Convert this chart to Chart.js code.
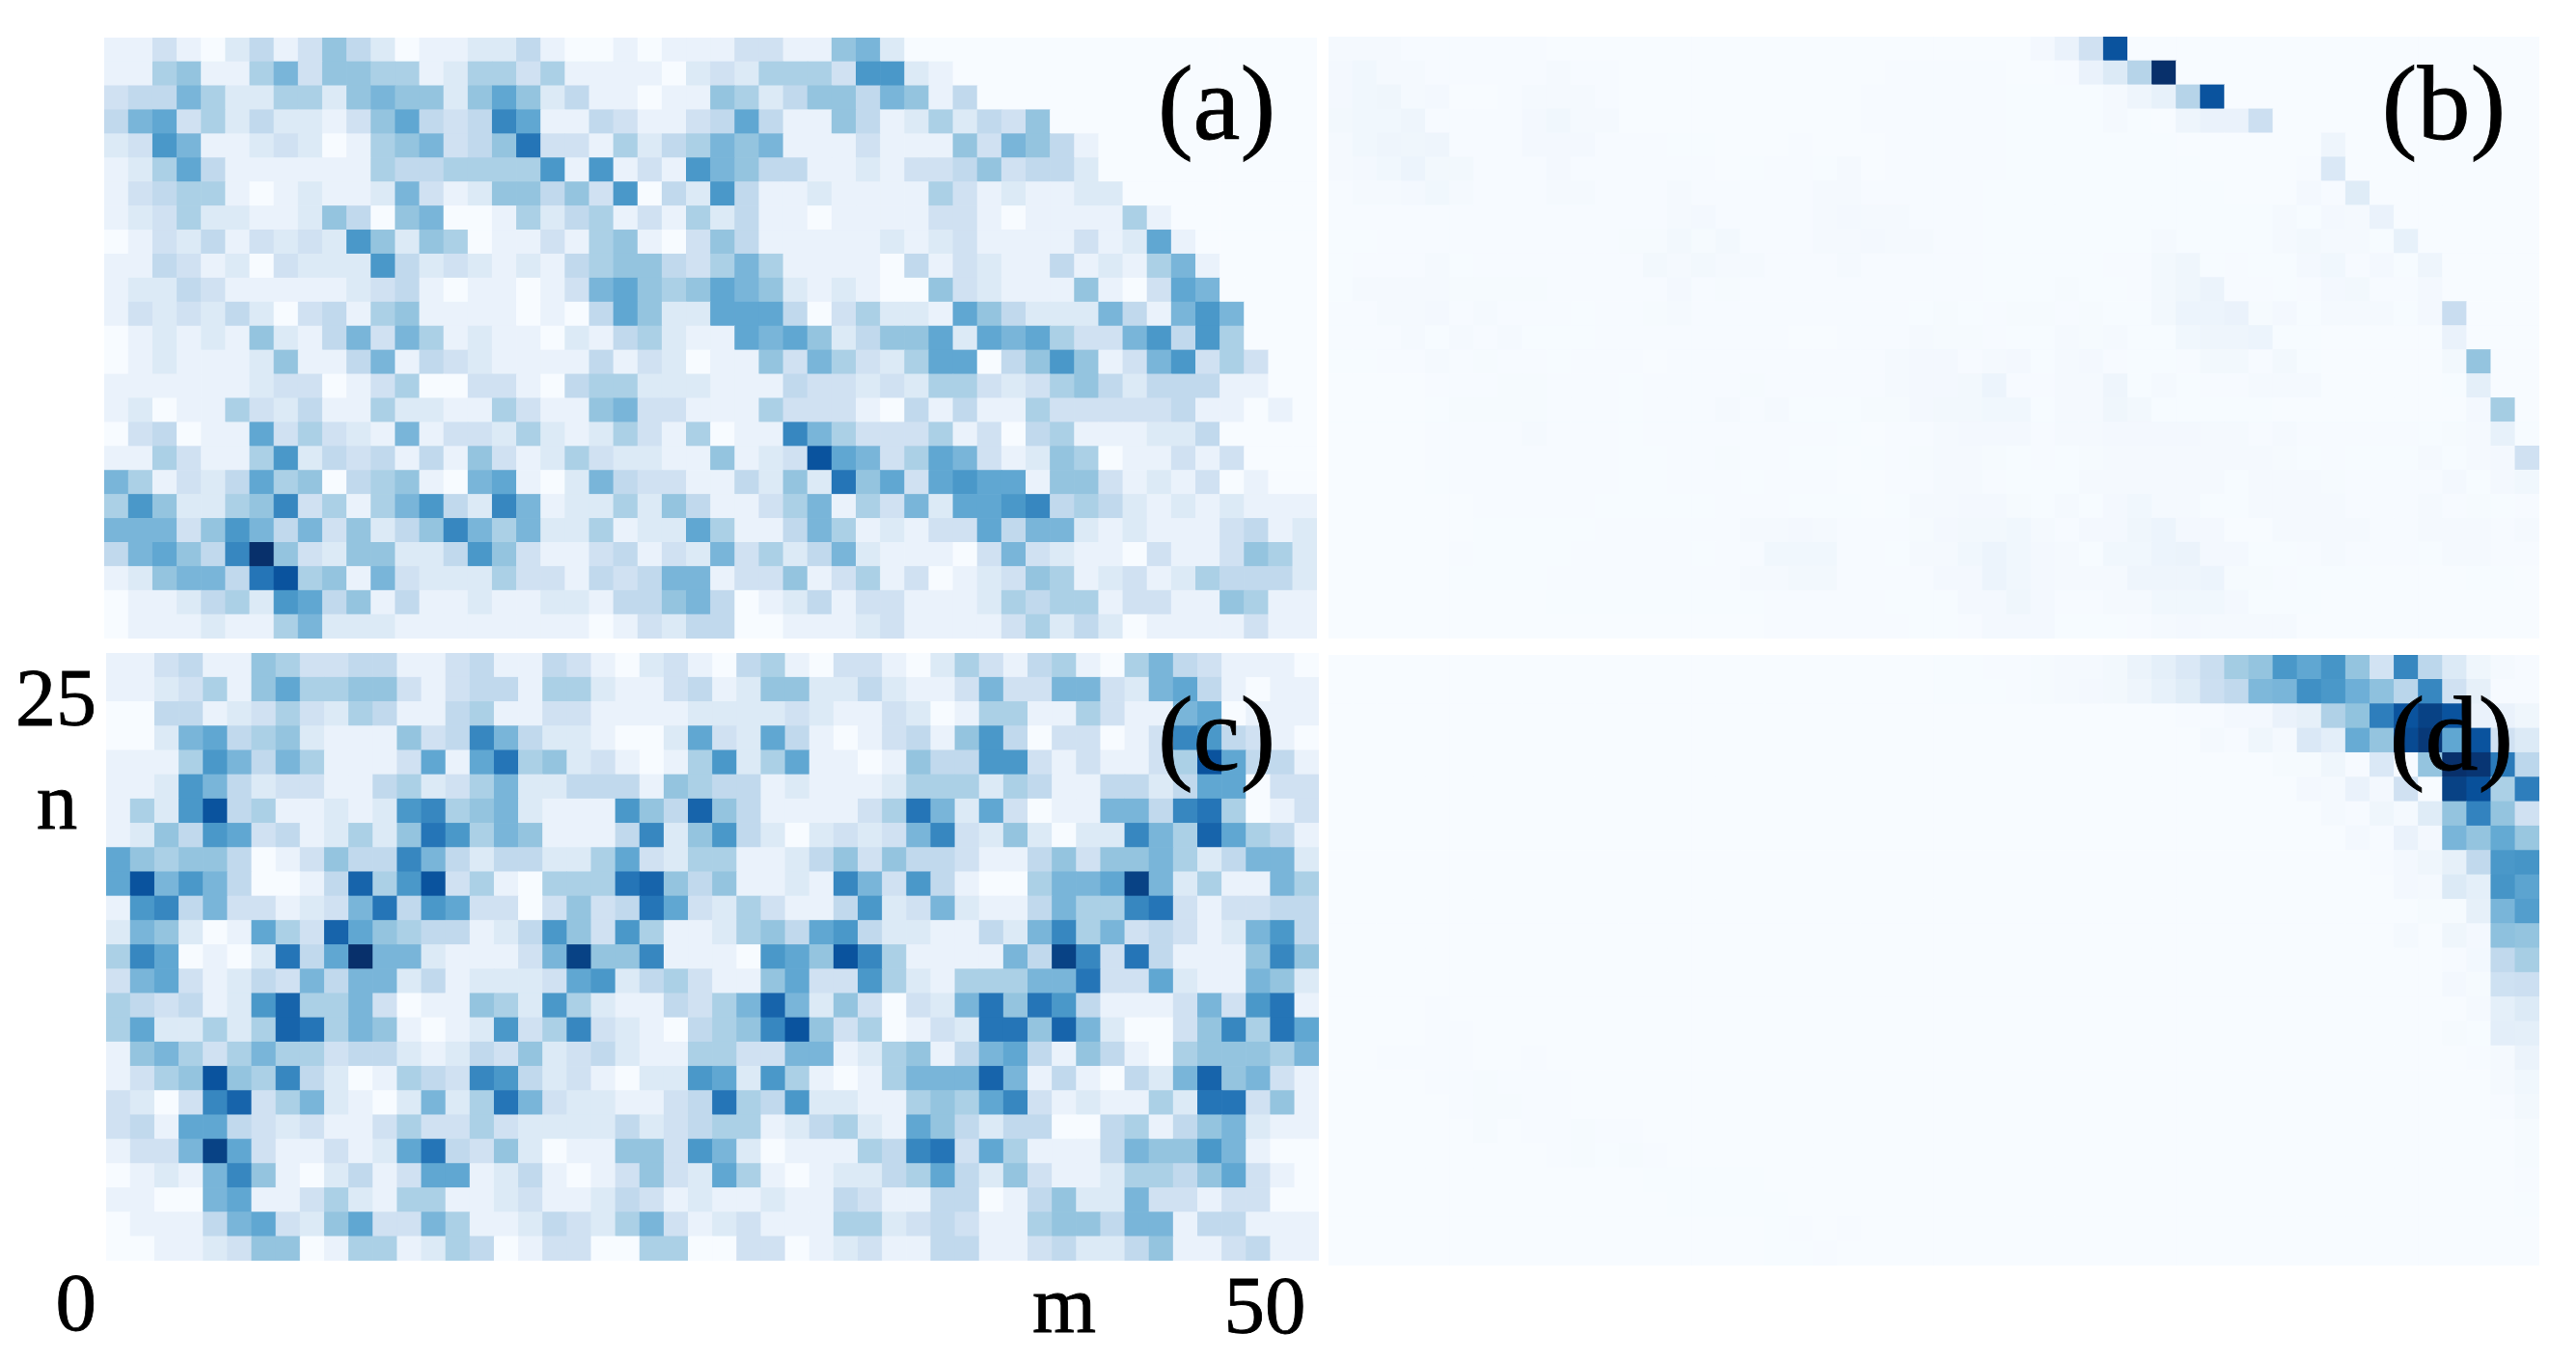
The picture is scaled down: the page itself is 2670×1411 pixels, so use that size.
<!DOCTYPE html>
<html>
<head>
<meta charset="utf-8">
<title>Panels (a)-(d)</title>
<script src="https://cdn.jsdelivr.net/npm/chart.js@4/dist/chart.umd.min.js"></script>
<style>
  html, body { margin: 0; padding: 0; background: #fff; }
  #page { position: relative; width: 2670px; height: 1411px; overflow: hidden; }
  .panel { position: absolute; }
  .lbl {
    position: absolute; white-space: nowrap; color: #000; line-height: 1;
    font-family: "Liberation Serif", serif;
    -webkit-text-stroke: 0.8px #000;
  }
</style>
</head>
<body>
<div id="page"></div>
<script>
// cell levels, 0 (palest) .. 15 (darkest), top row first, 50 columns each
const panelA = [
  [1,1,3,1,0,2,4,1,3,6,4,2,0,1,1,2,2,4,1,0,0,1,0,1,1,1,3,3,1,1,6,7,2,0,0,0,0,0,0,0,0,0,0,0,0,0,0,0,0,0],
  [1,1,5,6,1,1,5,7,3,6,6,5,5,1,2,5,5,3,5,1,1,1,1,0,2,3,2,5,5,5,3,9,9,2,1,0,0,0,0,0,0,0,0,0,0,0,0,0,0,0],
  [3,4,4,7,5,2,2,5,5,2,6,7,6,6,2,6,8,6,2,4,1,1,0,1,1,6,5,2,4,6,6,4,7,6,1,4,0,0,0,0,0,0,0,0,0,0,0,0,0,0],
  [4,7,8,3,5,2,4,2,2,1,3,6,8,4,3,4,10,8,1,1,4,3,1,1,3,4,8,4,1,1,6,4,1,2,5,2,4,3,6,0,0,0,0,0,0,0,0,0,0,0],
  [2,3,9,7,1,1,2,3,2,0,1,5,6,7,3,4,6,11,3,3,1,5,2,4,5,7,6,7,1,1,1,3,1,1,1,6,3,7,6,4,1,0,0,0,0,0,0,0,0,0],
  [1,2,5,8,4,1,1,1,1,1,1,5,4,4,5,5,5,5,9,1,9,1,3,1,9,7,6,4,4,1,1,2,1,3,3,4,6,3,4,4,2,0,0,0,0,0,0,0,0,0],
  [1,3,4,5,5,1,0,1,2,1,1,2,7,3,1,2,6,6,4,6,3,9,0,4,2,9,4,1,1,2,1,1,1,1,5,3,1,2,1,1,2,2,0,0,0,0,0,0,0,0],
  [1,2,3,5,2,2,1,1,2,6,4,0,6,7,0,0,1,5,2,4,5,1,3,1,5,2,4,1,1,0,1,1,1,1,3,3,1,0,1,1,1,1,5,1,0,0,0,0,0,0],
  [0,1,3,2,4,1,3,2,3,2,9,6,2,6,5,0,1,1,3,1,5,6,1,0,3,6,4,1,1,1,1,1,2,1,2,3,1,1,1,1,3,1,2,8,1,0,0,0,0,0],
  [1,1,4,3,1,2,0,3,2,2,2,9,4,2,3,2,1,2,1,4,5,6,6,4,3,5,7,5,1,1,1,1,0,4,1,3,2,1,1,4,1,2,1,5,7,1,0,0,0,0],
  [1,2,2,4,3,1,1,1,1,1,2,3,4,1,0,1,1,0,1,3,7,8,6,5,6,8,7,6,2,1,2,1,0,0,6,3,2,1,1,1,6,1,0,3,8,7,0,0,0,0],
  [1,3,2,3,2,4,2,0,3,4,1,5,6,1,1,1,1,0,1,0,4,8,6,2,2,8,8,8,4,0,3,5,2,2,1,8,6,4,2,2,2,7,4,1,7,9,7,0,0,0],
  [0,1,2,1,2,1,6,2,1,4,7,3,7,5,1,2,1,1,0,2,1,4,5,2,1,1,8,7,8,6,2,4,6,6,8,2,8,7,8,5,3,3,7,9,4,9,5,0,0,0],
  [0,1,2,1,1,1,2,6,1,1,4,7,1,4,3,2,1,1,1,1,4,1,3,2,0,1,1,6,3,7,5,3,2,5,8,8,0,4,6,9,6,1,3,7,9,3,5,3,0,0],
  [1,1,1,1,1,1,2,3,3,0,1,3,5,0,0,3,3,1,0,4,5,5,2,2,2,1,1,1,4,3,3,2,3,2,5,5,3,2,3,5,6,4,2,4,4,4,1,1,0,0],
  [1,2,0,1,1,5,3,2,4,1,1,5,2,2,1,1,5,3,1,1,6,7,3,3,1,1,1,5,3,3,3,1,0,4,1,4,1,1,5,3,3,3,3,3,4,1,1,0,1,0],
  [0,3,4,0,1,1,8,3,5,3,2,1,7,1,3,3,2,5,2,1,2,5,3,1,5,0,1,1,10,7,5,3,3,3,5,1,3,0,4,5,1,1,1,2,2,4,0,0,0,0],
  [1,1,5,3,1,1,5,9,2,4,3,4,1,4,1,6,3,1,2,5,3,2,2,1,1,6,1,2,3,13,8,7,3,5,8,7,3,1,2,6,5,0,1,1,3,1,3,0,0,0],
  [7,5,1,3,2,4,8,5,6,0,4,5,6,1,0,7,8,1,0,2,7,4,3,3,1,1,4,2,6,2,11,6,8,3,8,9,8,8,1,6,6,3,1,2,1,3,0,1,0,0],
  [5,9,6,2,2,5,6,10,3,5,1,5,7,9,4,2,10,7,1,2,2,5,2,6,4,1,1,3,5,7,1,5,3,7,2,8,8,9,10,4,5,4,2,1,2,1,2,1,1,1],
  [7,7,7,3,6,9,7,4,7,3,6,2,4,6,10,7,5,7,2,2,5,1,2,2,8,5,1,1,4,7,5,1,2,1,3,3,8,4,7,7,2,1,2,1,1,1,3,4,1,2],
  [4,7,8,6,4,10,15,6,3,2,6,6,2,2,4,9,6,3,1,1,3,4,1,3,2,7,3,5,2,4,7,2,1,1,1,0,3,7,3,2,1,1,0,3,1,1,3,6,5,2],
  [1,2,6,7,7,4,11,13,5,6,1,7,3,2,2,2,5,3,3,1,4,3,4,7,7,1,3,3,6,1,3,5,1,3,0,1,2,3,6,5,1,2,3,1,2,5,4,4,4,2],
  [0,1,1,2,4,5,2,9,8,4,6,1,4,1,1,2,1,1,2,2,1,4,4,6,7,4,0,1,2,4,1,3,3,1,1,1,2,5,4,5,5,1,3,3,1,1,6,5,1,1],
  [0,1,1,1,2,1,1,5,7,2,2,2,1,1,1,1,1,1,1,1,0,1,3,2,4,4,0,0,1,1,1,2,3,1,1,1,1,3,5,2,4,2,0,1,1,1,1,3,1,1]
];
const panelB = [
  [.2,.2,.2,.1,.1,.1,.1,.1,.1,0,0,0,0,0,0,0,0,0,0,0,0,0,0,0,0,0,0,0,0,.3,1,3,13,0,0,0,0,0,0,0,0,0,0,0,0,0,0,0,0,0],
  [.3,.5,.2,.2,.1,.1,.1,.1,.1,.2,.1,.1,0,0,0,0,0,0,0,0,0,0,0,.1,.1,.1,.1,.1,0,0,.1,1,2,4.5,15,0,0,0,0,0,0,0,0,0,0,0,0,0,0,0],
  [.3,.5,.6,.2,.3,0,0,.1,.2,.2,.2,.1,0,0,0,0,0,0,0,0,0,0,.1,.1,.1,.1,.1,.1,.05,.05,.05,.05,.2,.7,1.2,4.5,13,0,0,0,0,0,0,0,0,0,0,0,0,0],
  [.4,.5,.5,.7,.1,.1,.1,.1,.3,.5,.2,.2,0,0,0,0,0,0,0,0,0,0,.1,.1,.1,.1,.1,.1,.05,.05,.05,.05,.2,.05,0,.7,1,1,3.3,0,0,0,0,0,0,0,0,0,0,0],
  [.2,.5,.7,.6,.7,.1,.1,.1,.3,.3,.3,.1,.1,.1,.05,.05,0,0,0,.1,0,0,0,.1,.1,.1,.1,.1,.05,.05,.05,.05,.05,.05,.05,0,0,0,0,0,0,.7,0,0,0,0,0,0,0,0],
  [.2,.3,.5,.8,.4,.4,.1,.1,.1,.3,.1,.1,.1,.1,.1,.1,0,.05,.1,.1,.05,.2,0,.1,.1,.1,.1,.1,.05,.05,.05,.05,.05,.05,.05,.05,0,0,0,0,.1,2.2,0,0,0,0,0,0,0,0],
  [.1,.2,.2,.3,.5,.2,.1,.1,.1,.2,.2,.1,.1,.1,.2,.1,.1,.1,.1,.1,.2,.2,.1,.1,.1,.1,.1,.05,.05,.05,.05,.05,.05,.05,.05,.05,.05,0,0,0,.3,.1,1.8,0,0,0,0,0,0,0],
  [.1,.1,.1,.1,.1,.1,.1,.1,.1,.1,.1,.1,.1,.1,.2,.3,.1,.1,.1,.1,.2,.3,.2,.2,.1,.1,.1,.05,.05,.05,.05,.05,.05,.05,.05,.05,.05,.05,.05,.2,.05,.3,.2,1,0,0,0,0,0,0],
  [.05,.05,.1,.1,.1,.1,.1,.1,.1,.1,.1,.1,.15,.15,.4,.15,.4,.1,.1,.1,.2,.2,.3,.2,.2,.1,.1,.05,.05,.05,.05,.05,.05,.05,.2,.05,.05,.05,.05,.2,.4,.2,.2,.05,1.2,0,0,0,0,0],
  [.05,.1,.1,.1,.2,.05,.1,.1,.1,.1,.1,.1,.1,.4,.2,.4,.2,.2,.1,.1,.1,.2,.1,.1,.1,.1,.1,.05,.05,.05,.05,.05,.1,.1,.4,.6,.05,.1,.05,.05,.3,.5,.1,.3,.05,.7,0,0,0,0],
  [.05,.2,.2,.2,.2,.15,.15,.15,.15,.1,.1,.1,.1,.1,.3,.1,.15,.1,.1,.1,.1,.1,.1,.1,.1,.1,.1,.05,.05,.05,.15,.05,.05,.1,.4,.6,.9,.1,.1,.05,.1,.3,.4,.1,.1,.3,0,0,0,0],
  [.1,.1,.2,.2,.3,.1,.2,.1,.1,.1,.05,.1,.1,.15,.2,.1,.1,.1,.1,.1,.1,.1,.1,.1,.05,.15,.05,.1,.15,.15,.1,.15,.05,.05,.4,.8,.8,1,.15,.3,.05,.2,.2,.2,.05,.3,3.5,0,0,0],
  [.1,.1,.1,.2,.05,.2,.1,.2,.05,.05,.05,.1,.1,.1,.1,.1,.1,.1,.1,0,0,.1,.1,.1,.2,.15,.15,.1,.05,.05,.2,.15,.2,.05,.05,.5,.7,.7,.8,.05,.05,0,0,0,0,0,1,0,0,0],
  [.05,.05,.1,.1,.2,.1,.15,.1,.1,.05,.1,.1,.1,0,.1,.1,.1,.1,.1,.1,.1,.1,.1,.2,.3,.3,.1,.2,.3,.05,.2,.3,.1,.05,.05,.1,.4,.4,.1,.4,.05,0,0,0,0,0,.4,6,0,0],
  [0,0,0,0,.1,.1,.1,.15,.15,.1,.1,.1,.05,.1,.1,.1,.1,.15,.1,.1,.1,.1,.1,.2,.3,.3,.4,.8,.1,.1,.2,.2,.7,.05,.2,.05,.1,.1,.2,.2,.2,0,0,0,0,0,.05,1.4,0,0],
  [0,0,0,0,.05,.15,.15,.15,.15,.1,.1,.1,.05,.1,.1,.1,.2,.1,.2,.05,.05,.05,.15,.15,.3,.4,.4,.5,.5,.05,.2,.2,.6,.4,.05,.05,.05,.05,.05,0,0,0,0,0,0,0,0,.3,5.3,0],
  [0,0,0,0,.1,.1,.1,.1,.2,.1,.1,.1,.05,.1,.1,.1,.1,.1,.1,.1,.1,.05,0,.1,.1,.2,.3,.3,.3,.1,.2,.2,.3,.3,.3,.3,.2,.2,.1,.2,.1,.1,.1,.1,.1,.05,.15,.2,1.2,.05],
  [0,0,0,0,.1,.1,.1,.1,.1,.1,.1,.1,.05,.05,.1,.1,.15,.1,.1,.05,.05,0,.05,.1,.15,.2,.2,.15,.05,.1,.05,.15,.2,.2,.2,.2,.2,.2,.2,.15,.05,.1,.05,.05,.05,.2,.05,.2,.3,3],
  [0,0,0,0,.05,.1,.1,.1,.1,.1,.1,.1,.05,.05,.1,.1,.1,.05,.1,.1,.1,0,0,.1,.1,.2,.2,.1,.05,.05,.05,.2,.2,.2,.2,.2,.2,.05,.2,.2,.2,.15,.1,.1,.1,.1,.3,.05,.3,.5],
  [0,0,0,0,0,0,.1,.1,.1,.1,.1,.05,.05,.05,.05,.05,.1,.1,.1,.05,.05,.05,0,.05,.2,.2,.3,.3,.15,.05,.25,.05,.3,.5,.2,.25,.05,.05,.2,.2,.2,.25,.1,.1,.1,.2,.1,.15,.05,.1],
  [0,0,0,0,0,0,.05,.05,.05,.05,.05,.1,.1,.1,.1,.1,.1,.2,.2,.3,.2,.1,.1,.1,.15,.3,.4,.4,.5,.2,.1,.3,.3,.6,.8,.3,.3,0,0,.25,.25,.25,.25,.1,.1,.2,.2,.2,.1,.2],
  [0,0,0,0,0,.1,.05,.05,.05,.05,.1,.1,.1,.1,.1,.05,.1,.1,.5,.5,.5,.1,.1,.05,.2,.2,.5,.8,.5,.3,.2,.05,.5,.5,.8,.9,.3,.3,.05,.05,.1,.2,.1,.1,.1,.05,.2,.2,.1,.1],
  [0,0,0,0,0,.05,.05,.05,.05,.1,.1,.1,.1,.1,.1,.1,.1,.2,.2,.4,.4,.1,.1,.1,.1,.3,.3,.8,.5,.3,.2,.2,.2,.7,.7,.7,.8,.15,.15,.1,.05,.05,.05,0,0,0,0,.05,.05,0],
  [0,0,0,0,0,0,0,0,0,.05,.05,.05,.05,.05,.05,.05,.05,.05,.1,.1,.1,.1,.1,.05,.05,.05,.3,.3,.6,.3,.1,.1,.2,.2,.5,.5,.5,.3,.05,.05,.05,0,0,0,0,0,0,0,0,0],
  [0,0,0,0,0,0,0,0,0,0,0,0,0,0,0,0,0,0,.1,.1,.1,.1,.1,.1,.05,.05,.1,.3,.3,.3,.05,.05,.05,.1,.2,.3,.25,.25,.2,.2,0,0,0,0,0,0,0,0,0,0]
];
const panelC = [
  [1,1,3,4,1,1,6,5,3,3,4,4,1,1,3,4,1,1,4,3,1,0,2,3,1,0,4,5,1,0,3,3,1,0,2,5,3,1,4,5,1,0,5,7,4,3,1,1,1,0],
  [1,1,2,3,5,1,6,8,5,5,6,6,3,1,3,4,4,1,5,5,2,1,1,3,4,1,2,6,6,2,2,4,2,1,1,3,7,3,3,7,7,3,2,7,8,4,1,0,1,1],
  [0,0,4,4,1,2,3,5,3,2,5,4,1,1,4,5,1,1,3,3,1,1,1,1,2,2,2,2,3,2,1,1,3,2,0,1,5,5,1,1,5,3,1,1,7,8,0,1,1,1],
  [0,0,2,7,8,4,5,6,2,1,1,1,6,3,4,10,7,4,2,2,1,0,0,2,8,3,2,8,4,1,0,1,3,4,1,6,9,4,0,3,3,0,1,3,10,9,4,3,1,0],
  [1,1,1,5,9,7,4,7,5,1,1,1,3,8,1,8,11,5,6,2,3,1,0,1,5,9,2,5,8,1,1,0,1,6,4,4,9,9,3,1,3,1,1,3,5,13,8,4,4,1],
  [1,1,2,9,7,4,2,3,3,1,1,4,5,2,3,5,7,2,2,4,4,4,1,6,5,4,4,1,2,1,1,1,2,5,5,5,2,5,4,1,1,4,4,2,4,8,8,0,3,3],
  [1,5,2,9,13,4,5,1,1,2,1,2,9,10,5,6,7,2,1,1,1,9,6,4,12,6,4,1,1,1,1,3,5,11,7,2,8,3,0,1,1,7,7,4,10,11,5,0,1,3],
  [1,2,6,4,9,8,3,4,1,2,5,2,6,11,9,5,7,6,1,1,1,4,10,2,6,9,4,2,0,2,3,2,3,7,10,3,2,6,2,0,2,2,10,7,5,12,8,5,4,1],
  [8,6,5,6,6,4,0,1,3,6,4,4,10,7,4,2,4,4,2,2,5,8,3,2,5,5,1,1,2,4,6,3,6,4,4,3,1,1,4,6,3,6,6,7,5,2,4,7,7,2],
  [8,13,7,9,7,4,0,0,1,4,12,5,9,13,3,5,1,0,5,5,5,11,12,6,4,6,1,1,2,1,10,7,3,9,4,1,0,0,5,7,7,8,14,7,2,5,1,1,7,5],
  [1,9,10,4,7,3,3,1,2,3,7,11,4,9,8,3,3,0,3,6,3,4,11,8,3,2,5,3,1,1,4,9,2,3,7,2,1,1,4,7,5,5,10,11,3,1,3,3,4,4],
  [2,7,6,2,0,1,8,5,3,12,8,6,5,4,4,1,2,4,9,6,3,9,5,1,1,2,5,6,4,8,9,4,2,2,1,1,4,2,7,10,5,7,3,4,3,1,2,7,9,4],
  [5,10,8,0,1,0,2,11,4,8,15,7,7,2,1,1,1,3,7,14,6,6,10,1,1,1,0,9,8,6,13,10,5,1,1,1,1,7,4,14,10,3,11,4,1,1,1,6,10,6],
  [3,7,8,3,1,2,4,3,7,4,7,7,2,4,1,2,2,2,3,8,9,2,4,5,3,1,1,6,8,3,3,9,5,2,1,5,5,5,7,7,11,3,3,8,2,1,1,7,6,2],
  [5,4,3,4,1,2,9,12,5,5,7,3,0,1,1,6,5,2,9,5,2,1,1,4,3,5,7,12,7,2,6,3,0,3,2,7,11,6,11,9,4,1,1,1,3,7,3,9,11,1],
  [5,8,2,2,5,2,5,12,11,5,7,6,1,0,1,2,9,3,5,10,3,2,1,0,4,5,6,10,13,6,3,5,0,1,3,2,11,11,6,12,7,2,0,0,3,6,10,5,11,8],
  [1,6,7,5,3,5,7,5,5,3,4,4,2,1,2,4,3,6,2,3,4,2,1,1,5,5,3,3,7,7,1,2,5,6,1,4,7,8,4,1,6,4,1,0,5,6,6,6,5,7],
  [1,3,5,6,13,6,5,10,4,2,0,1,5,4,3,10,9,4,2,3,1,0,2,2,9,8,2,9,5,1,0,1,5,7,7,7,12,7,1,4,1,0,4,2,7,12,6,7,3,1],
  [3,2,0,3,10,12,3,5,7,2,1,0,2,7,2,5,11,7,3,2,2,1,1,3,4,11,5,4,9,2,2,1,1,5,6,5,8,10,3,1,2,1,1,5,2,11,11,3,6,1],
  [3,4,1,8,8,4,3,2,3,1,1,3,5,3,3,5,3,2,2,2,2,4,2,3,4,5,5,1,2,4,5,2,1,8,6,4,2,4,4,0,0,4,5,1,4,6,7,2,1,1],
  [1,3,3,7,14,8,3,1,1,3,1,2,8,11,4,3,6,2,0,1,1,6,6,3,9,7,2,0,1,1,1,5,4,10,11,3,8,5,1,1,1,4,7,6,6,9,7,1,0,0],
  [0,1,2,1,7,10,6,1,0,2,4,1,3,8,8,1,2,4,1,0,1,3,6,3,2,8,5,1,0,1,2,2,4,5,8,4,2,6,3,1,1,2,5,5,4,6,8,3,1,0],
  [1,1,0,0,7,8,1,1,3,5,2,1,5,5,1,1,2,3,1,1,2,4,3,1,2,1,1,2,1,1,4,3,1,1,4,4,0,1,4,6,2,2,7,3,3,1,3,3,0,0],
  [0,1,1,1,4,7,8,3,2,6,8,3,3,7,5,1,1,2,4,3,2,5,7,3,1,2,3,1,1,1,5,5,2,3,4,3,1,1,5,6,6,4,7,7,1,4,4,1,1,1],
  [0,0,1,1,2,3,6,6,0,1,5,5,1,2,5,4,0,1,3,3,0,0,5,5,0,0,3,3,0,1,2,3,1,1,4,4,1,1,3,4,2,2,4,6,1,1,3,4,1,1]
];
const panelD = [
  [0,0,0,0,0,0,0,0,0,0,0,0,0,0,0,0,0,0,0,0,0,0,0,0,0,.05,.05,.1,.1,.15,.2,.2,.4,.9,1.4,2.2,3.4,5.4,6,9,8,9.2,6,2.8,10,4.2,2,.6,.2,.1],
  [0,0,0,0,0,0,0,0,0,0,0,0,0,0,0,0,0,0,0,0,0,0,0,0,0,.05,.05,.05,.1,.15,.2,.3,.4,.7,1.2,1.8,3.3,4,6.8,7,9.5,9,7.4,6.2,4.3,10,3,1.3,.1,.1],
  [0,0,0,0,0,0,0,0,0,0,0,0,0,0,0,0,0,0,0,0,0,0,0,0,0,0,0,0,0,0,0,0,0,0,0,.1,.1,.3,.3,1,1.3,4.8,6.1,10.5,13,14,13,1,1,.6],
  [0,0,0,0,0,0,0,0,0,0,0,0,0,0,0,0,0,0,0,0,0,0,0,0,0,0,0,0,0,0,0,0,0,0,0,0,.2,.1,.6,.2,2.2,1.5,7.7,6,13.5,14.5,8,13,3,2],
  [0,0,0,0,0,0,0,0,0,0,0,0,0,0,0,0,0,0,0,0,0,0,0,0,0,0,0,0,0,0,0,0,0,0,0,0,0,0,0,.15,.15,.6,.1,2.2,.1,6,15,14.7,10.7,4.2],
  [0,0,0,0,0,0,0,0,0,0,0,0,0,0,0,0,0,0,0,0,0,0,0,0,0,0,0,0,0,0,0,0,0,0,0,0,0,0,0,0,.3,.2,1,.3,3,0,14,13.2,5,10.5],
  [0,0,0,0,0,0,0,0,0,0,0,0,0,0,0,0,0,0,0,0,0,0,0,0,0,0,0,0,0,0,0,0,0,0,0,0,0,0,0,0,0,.2,.1,.6,.2,1.8,6,10.2,6,3],
  [0,0,0,0,0,0,0,0,0,0,0,0,0,0,0,0,0,0,0,0,0,0,0,0,0,0,0,0,0,0,0,0,0,0,0,0,0,0,0,0,0,0,.3,.1,1,.3,7,6,7.8,5.8],
  [0,0,0,0,0,0,0,0,0,0,0,0,0,0,0,0,0,0,0,0,0,0,0,0,0,0,0,0,0,0,0,0,0,0,0,0,0,0,0,0,0,0,0,.1,.3,.6,1.3,4,9,9.2],
  [0,0,0,0,0,0,0,0,0,0,0,0,0,0,0,0,0,0,0,0,0,0,0,0,0,0,0,0,0,0,0,0,0,0,0,0,0,0,0,0,0,0,0,0,.3,.2,2,1.4,9.2,8.2],
  [0,0,0,0,0,0,0,0,0,0,0,0,0,0,0,0,0,0,0,0,0,0,0,0,0,0,0,0,0,0,0,0,0,0,0,0,0,0,0,0,0,0,0,0,0,.15,.15,1.3,7,8.6],
  [0,0,0,0,0,0,0,0,0,0,0,0,0,0,0,0,0,0,0,0,0,0,0,0,0,0,0,0,0,0,0,0,0,0,0,0,0,0,0,0,0,0,0,0,.2,0,.6,.3,6.2,6],
  [0,0,0,0,0,0,0,0,0,0,0,0,0,0,0,0,0,0,0,0,0,0,0,0,0,0,0,0,0,0,0,0,0,0,0,0,0,0,0,0,0,0,0,0,0,0,.1,.35,4,5.2],
  [0,0,0,0,0,0,0,0,0,0,0,0,0,0,0,0,0,0,0,0,0,0,0,0,0,0,0,0,0,0,0,0,0,0,0,0,0,0,0,0,0,0,0,0,0,0,.3,.15,3.1,3.3],
  [0,0,0,0,.1,0,0,0,0,0,0,0,0,0,0,0,0,0,0,0,0,0,0,0,0,0,0,0,0,0,0,0,0,0,0,0,0,0,0,0,0,0,0,0,0,0,0,.2,1.4,2],
  [0,0,0,0,.1,.1,0,0,0,0,0,0,0,0,0,0,0,0,0,0,0,0,0,0,0,0,0,0,0,0,0,0,0,0,0,0,0,0,0,0,0,0,0,0,0,0,.15,.05,1.5,1.4],
  [0,0,.1,.1,.1,.1,0,0,.1,0,0,0,0,0,0,0,0,0,0,0,0,0,0,0,0,0,0,0,0,0,0,0,0,0,0,0,0,0,0,0,0,0,0,0,0,0,0,.1,.2,.9],
  [0,0,0,0,.1,.1,.15,.1,.1,.1,0,0,0,0,0,0,0,0,0,0,0,0,0,0,0,0,0,0,0,0,0,0,0,0,0,0,0,0,0,0,0,0,0,0,0,0,0,0,.2,.5],
  [0,0,0,0,0,.1,.15,.15,.1,.1,0,0,0,0,0,0,0,0,0,0,0,0,0,0,0,0,0,0,0,0,0,0,0,0,0,0,0,0,0,0,0,0,0,0,0,0,0,0,.1,.4],
  [0,0,0,0,0,0,.15,0,.1,.1,.15,.1,.1,0,0,0,0,0,0,0,0,0,0,0,0,0,0,0,0,0,0,0,0,0,0,0,0,0,0,0,0,0,0,0,0,0,0,0,0,.15],
  [0,0,0,0,0,0,0,0,0,.1,.15,.05,.15,.1,0,0,0,0,0,0,0,0,0,0,0,0,0,0,0,0,0,0,0,0,0,0,0,0,0,0,0,0,0,0,0,0,0,0,0,.15],
  [0,0,0,0,0,0,0,0,0,0,0,0,0,.05,.05,.05,.05,.05,0,0,0,0,0,0,0,0,0,0,0,0,0,0,0,0,0,0,0,0,0,0,0,0,0,0,0,0,0,0,0,.1],
  [0,0,0,0,0,0,0,0,0,0,0,0,0,0,.05,.05,.05,.05,.05,0,0,0,0,0,0,0,0,0,0,0,0,0,0,0,0,0,0,0,0,0,0,0,0,0,0,0,0,0,0,.05],
  [0,0,0,0,0,0,0,0,0,0,0,0,0,0,0,0,0,0,.05,.1,0,.1,0,0,0,0,0,0,0,0,0,0,0,0,0,0,0,0,0,0,0,0,0,0,0,0,0,0,0,0],
  [0,0,0,0,0,0,0,0,0,0,0,0,0,0,0,0,0,0,.05,.05,.1,0,0,0,0,0,0,0,0,0,0,0,0,0,0,0,0,0,0,0,0,0,0,0,0,0,0,0,0,0]
];

const panelTags = ['(a)', '(b)', '(c)', '(d)'];
const yTickLabels = ['25', '0'];
const xTickLabels = ['50'];
const xAxisLabel = 'm';
const yAxisLabel = 'n';

const BLUES = [[247,251,255],[222,235,247],[198,219,239],[158,202,225],[107,174,214],[66,146,198],[33,113,181],[8,81,156],[8,48,107]];

function blues(level) {
  const t = Math.min(Math.max(level / 15, 0), 1) * (BLUES.length - 1);
  const i = Math.min(Math.floor(t), BLUES.length - 2);
  const f = t - i;
  const c = BLUES[i].map((v, k) => Math.round(v + (BLUES[i + 1][k] - v) * f));
  return `rgb(${c[0]},${c[1]},${c[2]})`;
}

const page = document.getElementById('page');

function drawPanel(rows, box) {
  const wrap = document.createElement('div');
  wrap.className = 'panel';
  wrap.style.cssText = `left:${box.x}px;top:${box.y}px;width:${box.w}px;height:${box.h}px`;
  const canvas = document.createElement('canvas');
  wrap.appendChild(canvas);
  page.appendChild(wrap);

  // one stacked dataset per row, bottom row first, so each bar segment is a cell
  const datasets = rows.slice().reverse().map(row => ({
    data: row.map(() => 1),
    backgroundColor: row.map(blues),
    borderWidth: 0,
    barPercentage: 1,
    categoryPercentage: 1
  }));

  new Chart(canvas, {
    type: 'bar',
    data: { labels: rows[0].map((_, i) => i), datasets },
    options: {
      responsive: true,
      maintainAspectRatio: false,
      animation: false,
      layout: { padding: 0 },
      plugins: { legend: { display: false }, tooltip: { enabled: false } },
      scales: {
        x: { display: false, stacked: true },
        y: { display: false, stacked: true, min: 0, max: rows.length }
      }
    }
  });
}

drawPanel(panelA, { x: 108, y: 39, w: 1257, h: 623 });
drawPanel(panelB, { x: 1377, y: 38, w: 1255, h: 624 });
drawPanel(panelC, { x: 110, y: 677, w: 1257, h: 630 });
drawPanel(panelD, { x: 1377, y: 679, w: 1255, h: 633 });

// text sits over the canvases; baseline is where Liberation Serif sits in a line-height:1 box
function addText(text, x, baseline, size, align) {
  const el = document.createElement('div');
  el.className = 'lbl';
  el.textContent = text;
  el.style.fontSize = size + 'px';
  el.style.top = (baseline - 0.8375 * size) + 'px';
  el.style.left = x + 'px';
  el.style.transform = align === 'right' ? 'translateX(-100%)' : 'translateX(-50%)';
  page.appendChild(el);
}

addText(panelTags[0], 1261, 144, 110);
addText(panelTags[1], 2533, 144, 110);
addText(panelTags[2], 1261, 798, 110);
addText(panelTags[3], 2541, 798, 110);
addText(yTickLabels[0], 100, 752, 84, 'right');
addText(yAxisLabel, 59, 859, 85);
addText(yTickLabels[1], 100, 1379, 85, 'right');
addText(xAxisLabel, 1103, 1381, 85);
addText(xTickLabels[0], 1311, 1382, 85);
</script>
</body>
</html>
